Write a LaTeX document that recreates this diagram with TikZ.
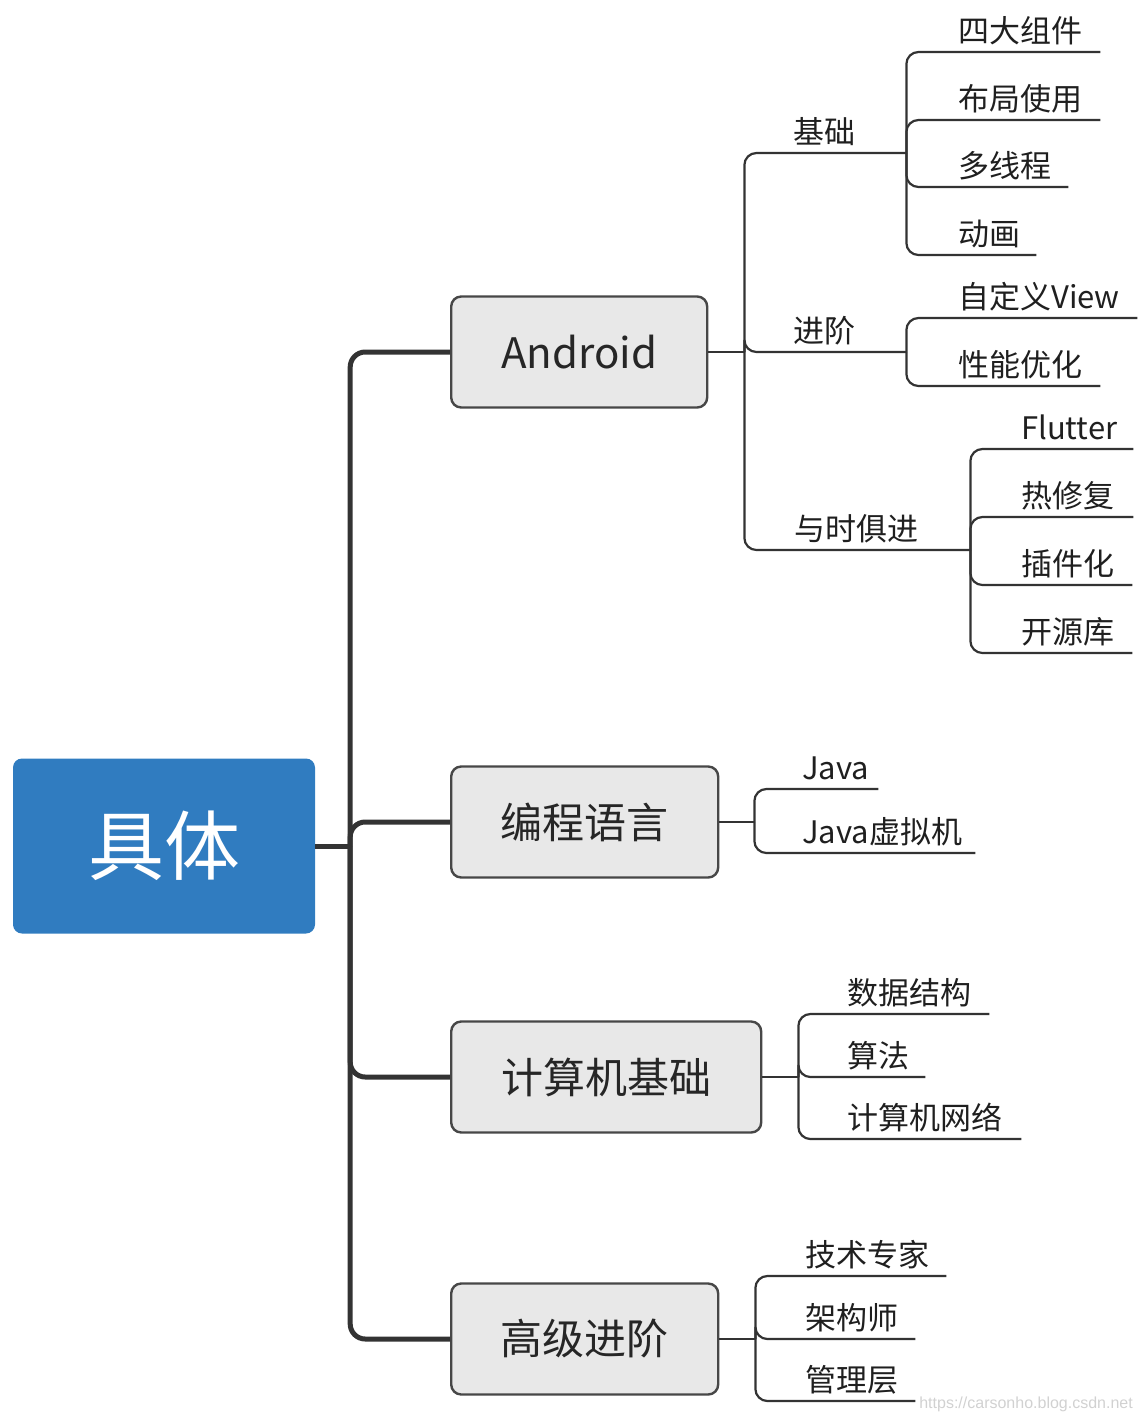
\documentclass[tikz,border=0pt]{standalone}
\usepackage{fontspec}
\setmainfont{Noto Sans CJK SC}
\newfontfamily\wmfont{Liberation Sans}
\usetikzlibrary{positioning}
\definecolor{rootblue}{HTML}{307CC0}
\definecolor{topicgray}{HTML}{E8E8E8}
\definecolor{linegray}{HTML}{333333}
\tikzset{
  rootbox/.style={fill=rootblue, text=white, rounded corners=9pt, minimum width=302pt,
    minimum height=175pt, font=\fontsize{76}{76}\selectfont},
  topic/.style={draw=linegray!90, line width=2.4pt, fill=topicgray, rounded corners=10pt,
    minimum height=111pt, anchor=west, text=black!85, font=\fontsize{42}{42}\selectfont},
  leaf/.style={anchor=south west, inner xsep=0pt, inner ysep=9pt, text depth=0pt,
    align=left, text=black!88, font=\fontsize{31}{31}\selectfont},
  trunk/.style={draw=linegray, line width=5pt, rounded corners=15pt},
  branch/.style={draw=linegray, line width=2.2pt, rounded corners=12pt},
}
\begin{document}
\begin{tikzpicture}[x=1pt,y=-1pt]
    \useasboundingbox (0,0) rectangle (1142,1422);
    % root and main topics
    \node[rootbox] (root) at (164,846) {具体};
    \coordinate[right=35pt of root] (hub);
    \node[topic, minimum width=256pt] (android) at (450,352) {Android};
    \node[topic, minimum width=267pt] (lang) at (450,822) {编程语言};
    \node[topic, minimum width=310pt] (cs) at (450,1077) {计算机基础};
    \node[topic, minimum width=267pt] (adv) at (450,1339) {高级进阶};
    \draw[trunk] (root.east) -- (hub);
    \draw[trunk] (hub) |- (android.west);
    \draw[trunk] (hub) |- (lang.west);
    \draw[trunk] (hub) |- (cs.west);
    \draw[trunk] (hub) |- (adv.west);

    % Android
    \coordinate[right=36pt of android] (ahub);
    \node[leaf, text width=113pt] (jichu) at (793,153) {基础};
    \node[leaf, text width=113pt] (jinjie) at (793,352) {进阶};
    \node[leaf, text width=176pt] (yushi) at (794,550) {与时俱进};
    \draw[branch] (android.east) -- (ahub);
    \draw[branch] (ahub) |- (jichu.south east);
    \draw[branch] (ahub) |- (jinjie.south east);
    \draw[branch] (ahub) |- (yushi.south east);

    \node[leaf, text width=142pt] (sida) at (958,52) {四大组件};
    \node[leaf, text width=142pt] (buju) at (958,120) {布局使用};
    \node[leaf, text width=110pt] (duoxian) at (958,187) {多线程};
    \node[leaf, text width=78pt] (donghua) at (958,255) {动画};
    \draw[branch] (jichu.south east) |- (sida.south east);
    \draw[branch] (jichu.south east) |- (buju.south east);
    \draw[branch] (jichu.south east) |- (duoxian.south east);
    \draw[branch] (jichu.south east) |- (donghua.south east);

    \node[leaf, text width=179pt] (zidingyi) at (958,318) {自定义View};
    \node[leaf, text width=142pt] (xingneng) at (958,386) {性能优化};
    \draw[branch] (jinjie.south east) |- (zidingyi.south east);
    \draw[branch] (jinjie.south east) |- (xingneng.south east);

    \node[leaf, text width=112pt] (flutter) at (1021,449) {Flutter};
    \node[leaf, text width=112pt] (rexiufu) at (1021,517) {热修复};
    \node[leaf, text width=111pt] (chajian) at (1021,585) {插件化};
    \node[leaf, text width=111pt] (kaiyuan) at (1021,653) {开源库};
    \draw[branch] (yushi.south east) |- (flutter.south east);
    \draw[branch] (yushi.south east) |- (rexiufu.south east);
    \draw[branch] (yushi.south east) |- (chajian.south east);
    \draw[branch] (yushi.south east) |- (kaiyuan.south east);

    % 编程语言
    \coordinate[right=35pt of lang] (lhub);
    \node[leaf, text width=76pt] (java) at (802,789) {Java};
    \node[leaf, text width=173pt] (jvm) at (802,853) {Java虚拟机};
    \draw[branch] (lang.east) -- (lhub);
    \draw[branch] (lhub) |- (java.south east);
    \draw[branch] (lhub) |- (jvm.south east);

    % 计算机基础
    \coordinate[right=36pt of cs] (chub);
    \node[leaf, text width=142pt] (shuju) at (847,1014) {数据结构};
    \node[leaf, text width=78pt] (suanfa) at (847,1077) {算法};
    \node[leaf, text width=174pt] (wangluo) at (847,1139) {计算机网络};
    \draw[branch] (cs.east) -- (chub);
    \draw[branch] (chub) |- (shuju.south east);
    \draw[branch] (chub) |- (suanfa.south east);
    \draw[branch] (chub) |- (wangluo.south east);

    % 高级进阶
    \coordinate[right=36pt of adv] (vhub);
    \node[leaf, text width=141pt] (zhuanjia) at (805,1276) {技术专家};
    \node[leaf, text width=110pt] (jiagou) at (805,1339) {架构师};
    \node[leaf, text width=110pt] (guanli) at (805,1401) {管理层};
    \draw[branch] (adv.east) -- (vhub);
    \draw[branch] (vhub) |- (zhuanjia.south east);
    \draw[branch] (vhub) |- (jiagou.south east);
    \draw[branch] (vhub) |- (guanli.south east);

    \node[anchor=south east, inner sep=0pt, text=black!18, font=\wmfont\fontsize{16}{16}\selectfont]
      (mark) at (1133,1412) {https://carsonho.blog.csdn.net};
\end{tikzpicture}
\end{document}
